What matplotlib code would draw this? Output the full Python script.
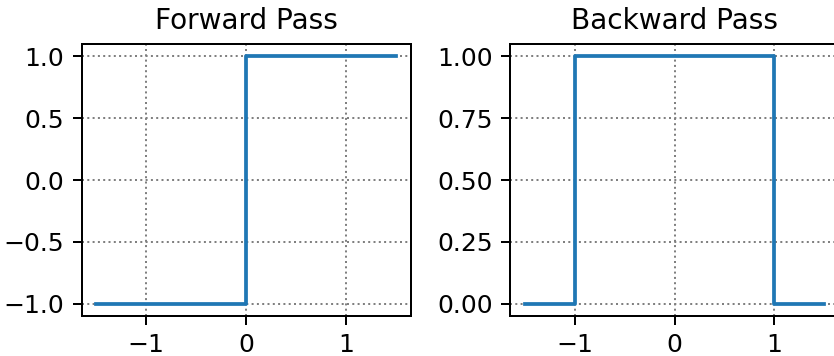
import matplotlib.pyplot as plt

# Funcion signo (paso hacia adelante)
x_forward = [-1.5, 0.0, 0.0, 1.5]
y_forward = [-1.0, -1.0, 1.0, 1.0]

# Gradiente straight-through (paso hacia atras)
x_backward = [-1.5, -1.0, -1.0, 1.0, 1.0, 1.5]
y_backward = [0.0, 0.0, 1.0, 1.0, 0.0, 0.0]

DPI = 180
W, H = 834, 356
fig = plt.figure(figsize=(W / DPI, H / DPI), dpi=DPI)

ax1 = fig.add_axes([81.5 / W, (H - 316) / H, 329 / W, 272 / H])
ax2 = fig.add_axes([510 / W, (H - 316) / H, 329 / W, 272 / H])

ax1.plot(x_forward, y_forward)
ax1.set_title('Forward Pass', fontsize=11.2)
ax1.grid(True, linestyle=':', color='gray')

ax2.plot(x_backward, y_backward)
ax2.set_title('Backward Pass', fontsize=11.2)
ax2.set_yticks([0.0, 0.25, 0.5, 0.75, 1.0])
ax2.grid(True, linestyle=':', color='gray')

fig.savefig('out.png', dpi=DPI)
